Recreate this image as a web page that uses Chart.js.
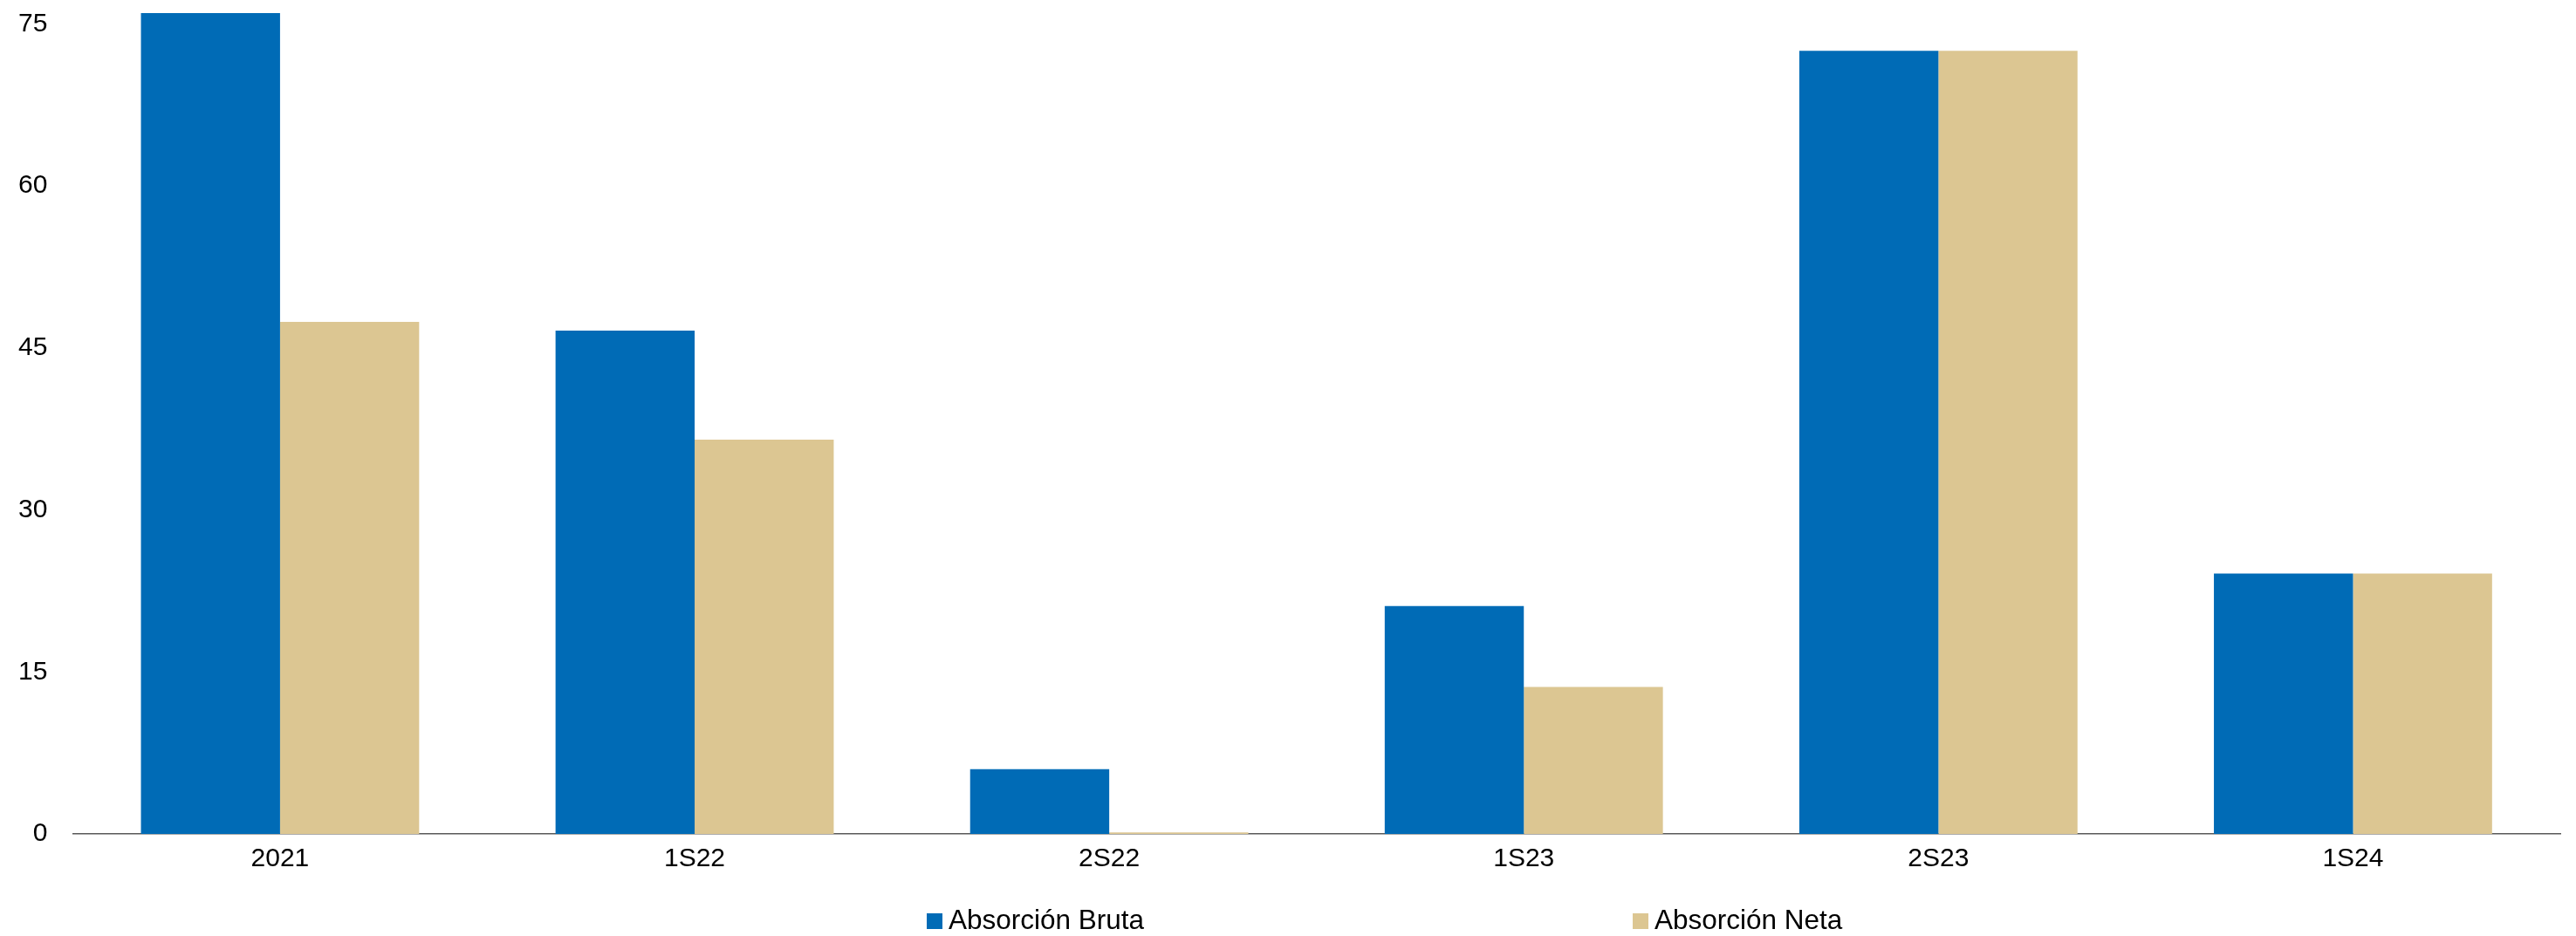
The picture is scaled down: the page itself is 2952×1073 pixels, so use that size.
<!DOCTYPE html>
<html>
<head>
<meta charset="utf-8">
<script src="https://cdn.jsdelivr.net/npm/chart.js@4/dist/chart.umd.min.js"></script>
<style>
  html, body { margin: 0; padding: 0; background: #fff; }
  #wrap { width: 2952px; height: 1073px; position: relative; }
</style>
</head>
<body>
<div id="wrap"><canvas id="absorcionChart"></canvas></div>
<script>
const periods = ["2021", "1S22", "2S22", "1S23", "2S23", "1S24"];
const absorcionBruta = [76.0, 46.6, 6.0, 21.1, 72.5, 24.1];
const absorcionNeta = [47.4, 36.5, 0.15, 13.6, 72.5, 24.1];
const yTicks = [0, 15, 30, 45, 60, 75];

const BLUE = "#006bb6";
const TAN = "#dcc692";
const FONT = "'Liberation Sans', Arial, sans-serif";

// legend laid out wide apart under the plot, drawn straight on the canvas
const spreadLegend = {
  id: "spreadLegend",
  afterDraw(chart, args, opts) {
    const ctx = chart.ctx;
    ctx.save();
    ctx.font = opts.size + "px " + FONT;
    ctx.textBaseline = "middle";
    ctx.textAlign = "left";
    chart.data.datasets.forEach((ds, i) => {
      const x = opts.x[i];
      ctx.fillStyle = ds.backgroundColor;
      ctx.fillRect(x, opts.y - opts.box / 2, opts.box, opts.box);
      ctx.fillStyle = "#000";
      ctx.fillText(ds.label, x + opts.box + 7, opts.y);
    });
    ctx.restore();
  }
};

new Chart(document.getElementById("absorcionChart"), {
  type: "bar",
  data: {
    labels: periods,
    datasets: [
      { label: "Absorción Bruta", data: absorcionBruta, backgroundColor: BLUE },
      { label: "Absorción Neta", data: absorcionNeta, backgroundColor: TAN }
    ]
  },
  options: {
    responsive: true,
    maintainAspectRatio: false,
    animation: false,
    layout: { padding: { top: 15, right: 18, bottom: 59, left: -8 } },
    datasets: {
      bar: { categoryPercentage: 0.671, barPercentage: 1.0, borderWidth: 0 }
    },
    scales: {
      x: {
        z: 1,
        grid: { display: false, drawTicks: false },
        border: { display: true, color: "rgba(0,0,0,0.65)", width: 1.5 },
        ticks: { color: "#000", font: { family: FONT, size: 30 }, padding: 11 }
      },
      y: {
        min: 0,
        max: 76,
        grid: { display: false, drawTicks: false },
        border: { display: false },
        ticks: { color: "#000", font: { family: FONT, size: 30 }, padding: 29 },
        afterBuildTicks: (scale) => {
          scale.ticks = yTicks.map(v => ({ value: v }));
        },
        afterFit: (scale) => {
          scale.paddingTop = 0;
          scale.paddingBottom = 0;
        }
      }
    },
    plugins: {
      legend: { display: false },
      tooltip: { enabled: false },
      spreadLegend: { x: [1062, 1871], y: 1056, box: 18, size: 31.5 }
    }
  },
  plugins: [spreadLegend]
});
</script>
</body>
</html>
